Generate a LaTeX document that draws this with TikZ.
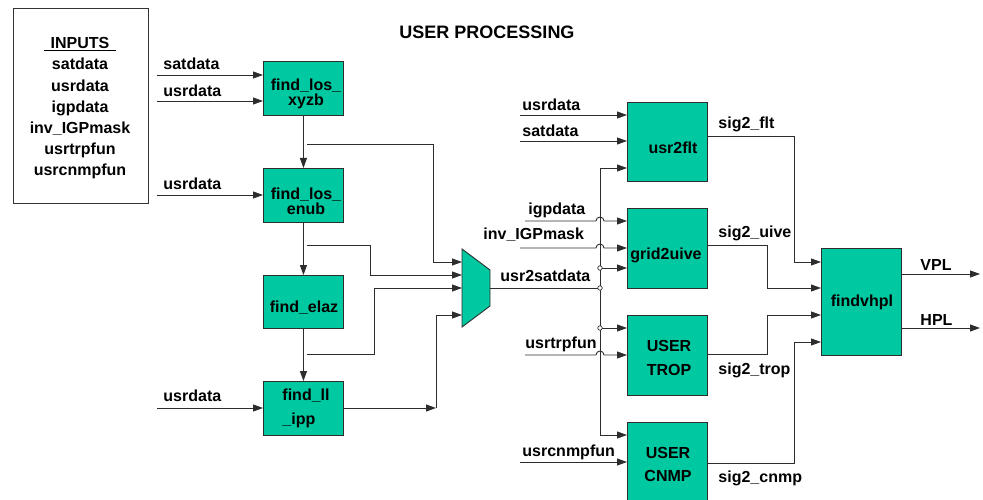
\documentclass[tikz,border=0pt]{standalone}
\usepackage{fontspec}
\setmainfont{Liberation Sans}
\usetikzlibrary{arrows.meta}
\definecolor{boxfill}{RGB}{0,200,160}
\definecolor{linec}{RGB}{45,45,45}
\begin{document}
\begin{tikzpicture}[x=1pt,y=-1pt,
  font=\fontsize{16}{16}\selectfont\bfseries,
  line width=0.9pt, draw=linec,
  blk/.style={draw=linec, fill=boxfill, line width=0.9pt, inner sep=0pt, anchor=north west, minimum width=80pt},
  txt/.style={inner sep=0pt, anchor=center, align=center},
  lbl/.style={inner sep=0pt, anchor=west},
  arr/.style={-{Triangle[length=10pt,width=7pt]}},
  dot/.style={circle, draw=linec, fill=white, inner sep=0pt, minimum size=4.5pt, line width=0.7pt}]
\useasboundingbox (0,0) rectangle (983,500);

% inputs box
\draw[line width=1pt, black!80] (13,9) rectangle (148,203);
\node[txt, anchor=north, font=\fontsize{16}{21.2}\selectfont\bfseries] (inputs) at (80,37)
  {\underline{\makebox[72pt]{INPUTS}}\\satdata\\usrdata\\igpdata\\inv\_IGPmask\\usrtrpfun\\usrcnmpfun};

% title
\node[txt, font=\fontsize{18}{18}\selectfont\bfseries] (title) at (487,32) {USER PROCESSING};

% left column boxes
\node[blk, minimum height=54pt] (xyzb) at (263,61) {};
\node[blk, minimum height=54pt] (enub) at (263,168) {};
\node[blk, minimum height=53pt] (elaz) at (263,275) {};
\node[blk, minimum height=54pt] (ipp)  at (263,381) {};
\node[txt, font=\fontsize{16}{15}\selectfont\bfseries] (xyzbt) at (306,94) {find\_los\_\\xyzb};
\node[txt, font=\fontsize{16}{15}\selectfont\bfseries] (enubt) at (306,201) {find\_los\_\\enub};
\node[txt] (elazt) at (304,308) {find\_elaz};
\node[inner sep=0pt, anchor=west, align=left, font=\fontsize{16}{24}\selectfont\bfseries] (ippt) at (282,408) {find\_ll\\\_ipp};

% right column boxes
\node[blk, minimum height=79pt] (flt)  at (627,102) {};
\node[blk, minimum height=80pt] (grid) at (627,208) {};
\node[blk, minimum height=80pt] (trop) at (627,315) {};
\node[blk, minimum height=80pt] (cnmp) at (627,422) {};
\node[txt] (fltt) at (673,148) {usr2flt};
\node[txt] (gridt) at (666,255) {grid2uive};
\node[txt, font=\fontsize{16}{24}\selectfont\bfseries] (tropt) at (669,358) {USER\\TROP};
\node[txt, font=\fontsize{16}{23}\selectfont\bfseries] (cnmpt) at (668,464) {USER\\CNMP};

\node[blk, minimum height=107pt] (vhpl) at (821,248) {};
\node[txt] (vhplt) at (862,302) {findvhpl};

% mux
\draw[fill=boxfill, draw=linec, line width=0.9pt] (462,249) -- (490,270) -- (490,306) -- (462,327) -- cycle;
\coordinate (m1) at (462,262);
\coordinate (m2) at (462,275);
\coordinate (m3) at (462,288);
\coordinate (m4) at (462,315);
\coordinate (mo) at (490,288);

% left inputs
\coordinate (i1) at (157,75);
\coordinate (i2) at (157,101);
\coordinate (i3) at (157,195);
\coordinate (i4) at (157,408);
\draw[arr] (i1) -- (i1 -| xyzb.west);
\draw[arr] (i2) -- (i2 -| xyzb.west);
\draw[arr] (i3) -- (i3 -| enub.west);
\draw[arr] (i4) -- (i4 -| ipp.west);
\node[lbl] (l1) at (163,64) {satdata};
\node[lbl] (l2) at (163,91) {usrdata};
\node[lbl] (l3) at (163,184) {usrdata};
\node[lbl] (l4) at (163,396) {usrdata};

% vertical chain
\draw[arr] (xyzb.south) -- (enub.north);
\draw[arr] (enub.south) -- (elaz.north);
\draw[arr] (elaz.south) -- (ipp.north);

% taps to mux
\coordinate (t1) at (307,144);
\coordinate (t2) at (307,245);
\coordinate (t3) at (307,354);
\draw[arr] (t1) -- (433,144) -- (433,262) -- (m1);
\draw[arr] (t2) -- (370,245) -- (370,275) -- (m2);
\draw[arr] (t3) -- (374,354) -- (374,288) -- (m3);
\coordinate (c4) at (436,408);
\draw[arr] (ipp.east |- c4) -- (c4);
\draw[arr] (c4) -- (436,315) -- (m4);

% mux output and bus
\coordinate (j0) at (600,288);
\coordinate (bt) at (600,168);
\coordinate (bb) at (600,435);
\coordinate (j1) at (600,268);
\coordinate (j2) at (600,328);
\draw (mo) -- (j0);
\node[lbl] (usl) at (500,276) {usr2satdata};
\draw (bt) -- (bb);
\draw[arr] (bt) -- (bt -| flt.west);
\draw[arr] (bb) -- (bb -| cnmp.west);
\draw[arr] (j1) -- (j1 -| grid.west);
\draw[arr] (j2) -- (j2 -| trop.west);
\node[dot] (d1) at (j1) {};
\node[dot] (d0) at (j0) {};
\node[dot] (d2) at (j2) {};

% right inputs
\coordinate (r1) at (520,115);
\coordinate (r2) at (520,141);
\coordinate (r3) at (525,221);
\coordinate (r4) at (520,248);
\coordinate (r5) at (525,355);
\coordinate (r6) at (520,462);
\draw[arr] (r1) -- (r1 -| flt.west);
\draw[arr] (r2) -- (r2 -| flt.west);
\draw[arr] (r3) -- (596,221) arc[start angle=180, end angle=0, radius=4pt] -- (r3 -| grid.west);
\draw[arr] (r4) -- (596,248) arc[start angle=180, end angle=0, radius=4pt] -- (r4 -| grid.west);
\draw[arr] (r5) -- (596,355) arc[start angle=180, end angle=0, radius=4pt] -- (r5 -| trop.west);
\draw[arr] (r6) -- (r6 -| cnmp.west);
\node[lbl] (rl1) at (522,105) {usrdata};
\node[lbl] (rl2) at (522,131) {satdata};
\node[lbl] (rl3) at (528,210) {igpdata};
\node[lbl] (rl4) at (483,235) {inv\_IGPmask};
\node[lbl] (rl5) at (525,344) {usrtrpfun};
\node[lbl] (rl6) at (522,452) {usrcnmpfun};

% outputs to findvhpl
\coordinate (o1) at (794,136);
\coordinate (o2) at (767,245);
\coordinate (o3) at (767,354);
\coordinate (o4) at (794,463);
\draw[arr] (flt.east |- o1) -- (o1) -- (794,262) -- (vhpl.west |- 0,262);
\draw[arr] (grid.east |- o2) -- (o2) -- (767,288) -- (vhpl.west |- 0,288);
\draw[arr] (trop.east |- o3) -- (o3) -- (767,315) -- (vhpl.west |- 0,315);
\draw[arr] (cnmp.east |- o4) -- (o4) -- (794,342) -- (vhpl.west |- 0,342);
\node[lbl] (sl1) at (718,124) {sig2\_flt};
\node[lbl] (sl2) at (718,233) {sig2\_uive};
\node[lbl] (sl3) at (718,370) {sig2\_trop};
\node[lbl] (sl4) at (718,478) {sig2\_cnmp};

\coordinate (vp) at (980,274);
\coordinate (hp) at (980,328);
\draw[arr] (vhpl.east |- vp) -- (vp);
\draw[arr] (vhpl.east |- hp) -- (hp);
\node[lbl] (vpl) at (920,265) {VPL};
\node[lbl] (hpl) at (920,320) {HPL};
\end{tikzpicture}
\end{document}
